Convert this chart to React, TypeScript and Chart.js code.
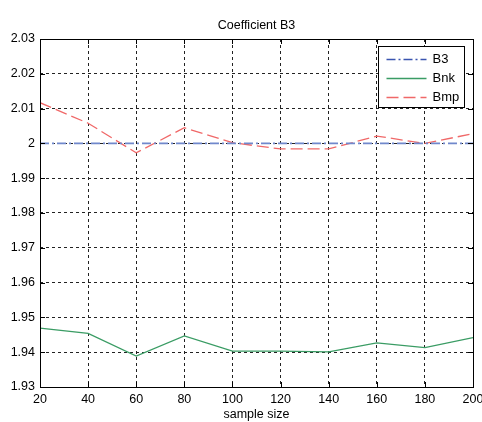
import React, { useEffect, useRef } from "react";
import { Chart, registerables } from "chart.js";

Chart.register(...registerables);

const sampleSizes = [20, 40, 60, 80, 100, 120, 140, 160, 180, 200];
const b3Values = [2, 2, 2, 2, 2, 2, 2, 2, 2, 2];
const bnkValues = [1.9469, 1.9454, 1.9389, 1.9447, 1.9403, 1.9403, 1.9401, 1.9427, 1.9413, 1.9442];
const bmpValues = [2.0117, 2.0058, 1.9973, 2.0045, 2.0002, 1.9984, 1.9984, 2.0021, 2.0, 2.0028];
const xTicks = [20, 40, 60, 80, 100, 120, 140, 160, 180, 200];
const yTicks = [1.93, 1.94, 1.95, 1.96, 1.97, 1.98, 1.99, 2.0, 2.01, 2.02, 2.03];

const FONT = "'Liberation Sans', Arial, sans-serif";

const framePlugin = {
  id: "matlabFrame",
  afterDraw(chart: any) {
    const { ctx, chartArea } = chart;
    const { left, right, top, bottom } = chartArea;
    ctx.save();
    // title
    ctx.fillStyle = "#000";
    ctx.font = `12.5px ${FONT}`;
    ctx.textAlign = "center";
    ctx.textBaseline = "alphabetic";
    ctx.fillText("Coefficient B3", (left + right) / 2, top - 10);
    // frame
    ctx.strokeStyle = "#000";
    ctx.lineWidth = 1;
    ctx.setLineDash([]);
    ctx.strokeRect(Math.round(left) + 0.5, Math.round(top) + 0.5, Math.round(right - left), Math.round(bottom - top));
    // inner ticks
    const xs = chart.scales.x;
    const ys = chart.scales.y;
    const tl = 5;
    ctx.beginPath();
    xTicks.forEach((v) => {
      const px = Math.round(xs.getPixelForValue(v)) + 0.5;
      ctx.moveTo(px, top);
      ctx.lineTo(px, top + tl);
      ctx.moveTo(px, bottom);
      ctx.lineTo(px, bottom - tl);
    });
    yTicks.forEach((v) => {
      const py = Math.round(ys.getPixelForValue(v)) + 0.5;
      ctx.moveTo(left, py);
      ctx.lineTo(left + tl, py);
      ctx.moveTo(right, py);
      ctx.lineTo(right - tl, py);
    });
    ctx.stroke();
    // legend
    const bw = 86;
    const bh = 61;
    const bx = Math.round(right - 9 - bw) + 0.5;
    const by = Math.round(top + 7) + 0.5;
    ctx.fillStyle = "#fff";
    ctx.fillRect(bx, by, bw, bh);
    ctx.strokeStyle = "#000";
    ctx.strokeRect(bx, by, bw, bh);
    chart.data.datasets.forEach((ds: any, i: number) => {
      const y = Math.round(by + 12 + i * 19) + 0.5;
      ctx.strokeStyle = ds.legendColor || ds.borderColor;
      ctx.lineWidth = 1.5;
      ctx.setLineDash(ds.borderDash || []);
      ctx.beginPath();
      ctx.moveTo(bx + 8, y);
      ctx.lineTo(bx + 48, y);
      ctx.stroke();
      ctx.setLineDash([]);
      ctx.fillStyle = "#000";
      ctx.font = `13px ${FONT}`;
      ctx.textAlign = "left";
      ctx.textBaseline = "middle";
      ctx.fillText(ds.label, bx + 54, y);
    });
    ctx.restore();
  },
};

export default function App() {
  const ref = useRef<HTMLCanvasElement | null>(null);
  useEffect(() => {
    document.body.style.margin = "0";
    if (!ref.current) return;
    const mk = (vals: number[]) => sampleSizes.map((x, i) => ({ x, y: vals[i] }));
    const chart = new Chart(ref.current, {
      type: "line",
      data: {
        datasets: [
          {
            label: "B3",
            data: mk(b3Values),
            borderColor: "#7088cc",
            legendColor: "#3a55b0",
            borderWidth: 1.8,
            borderDash: [9, 3, 2, 3],
            pointRadius: 0,
            tension: 0,
          },
          {
            label: "Bnk",
            data: mk(bnkValues),
            borderColor: "#3a9c64",
            borderWidth: 1.3,
            pointRadius: 0,
            tension: 0,
          },
          {
            label: "Bmp",
            data: mk(bmpValues),
            borderColor: "#f06868",
            borderWidth: 1.3,
            borderDash: [12, 5],
            pointRadius: 0,
            tension: 0,
          },
        ],
      },
      options: {
        responsive: false,
        maintainAspectRatio: false,
        animation: false,
        layout: { padding: { top: 39, right: 9, left: 0, bottom: 0 } },
        plugins: {
          legend: { display: false },
          title: { display: false },
          tooltip: { enabled: false },
        },
        scales: {
          x: {
            type: "linear",
            min: 20,
            max: 200,
            afterBuildTicks: (s: any) => {
              s.ticks = xTicks.map((v) => ({ value: v }));
            },
            afterFit: (s: any) => {
              s.height = 35;
              s.paddingLeft = 0;
              s.paddingRight = 0;
            },
            grid: { color: "#222", lineWidth: 1, drawTicks: false },
            border: { display: false, dash: [3, 3] },
            ticks: {
              color: "#000",
              font: { family: FONT, size: 12.5 },
              padding: 5,
              maxRotation: 0,
              autoSkip: false,
            },
            title: {
              display: true,
              text: "sample size",
              color: "#000",
              font: { family: FONT, size: 12.5 },
              padding: { top: 0, bottom: 0 },
            },
          },
          y: {
            type: "linear",
            min: 1.93,
            max: 2.03,
            afterBuildTicks: (s: any) => {
              s.ticks = yTicks.map((v) => ({ value: v }));
            },
            afterFit: (s: any) => {
              s.width = 40;
              s.paddingTop = 0;
              s.paddingBottom = 0;
            },
            grid: { color: "#222", lineWidth: 1, drawTicks: false },
            border: { display: false, dash: [3, 3] },
            ticks: {
              color: "#000",
              font: { family: FONT, size: 12.5 },
              padding: 5,
              autoSkip: false,
              callback: (v: any) => String(Math.round(Number(v) * 100) / 100),
            },
          },
        },
      },
      plugins: [framePlugin],
    } as any);
    return () => chart.destroy();
  }, []);
  return (
    <div style={{ position: "absolute", left: 0, top: 0, width: 482, height: 422, background: "#fff" }}>
      <canvas ref={ref} width={482} height={422} />
    </div>
  );
}
